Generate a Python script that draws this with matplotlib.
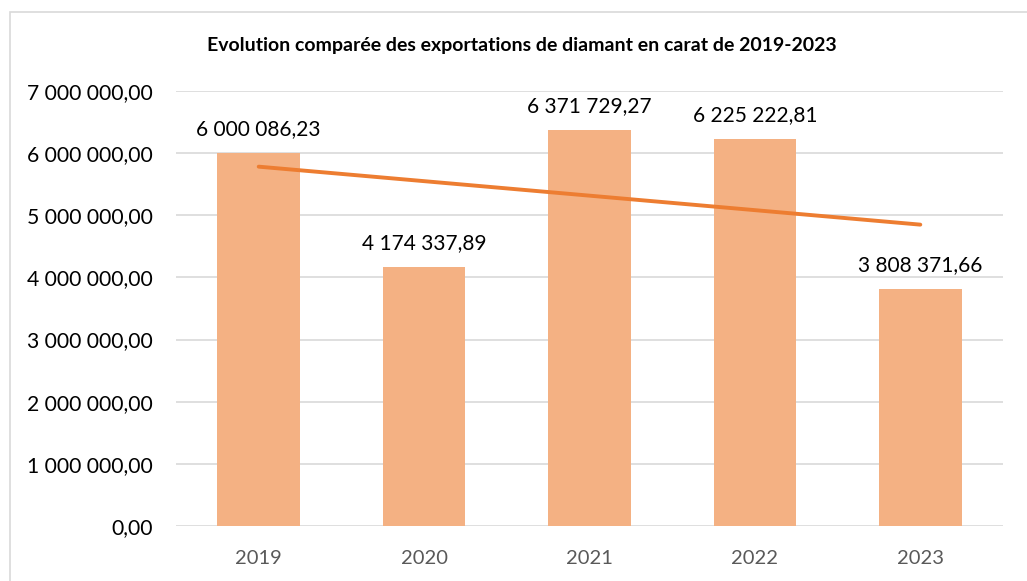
import matplotlib
matplotlib.use("Agg")
import matplotlib.pyplot as plt
import numpy as np
from matplotlib.patches import Rectangle

years = ["2019", "2020", "2021", "2022", "2023"]
values = [6000086.23, 4174337.89, 6371729.27, 6225222.81, 3808371.66]
title = "Evolution comparée des exportations de diamant en carat de 2019-2023"

def fr(v):
    s = f"{v:,.2f}"
    return s.replace(",", " ").replace(".", ",")

plt.rcParams['font.family'] = ['Lato', 'DejaVu Sans']

fig = plt.figure(figsize=(10.27, 5.81), dpi=100)
W, H = 1027, 581
ax = fig.add_axes([176/W, 1-526/H, (1003-176)/W, (526-91)/H])

x = np.arange(len(years))
ax.bar(x, values, width=0.5, color="#F4B183", zorder=2)
for xi, v in zip(x, values):
    ax.annotate(fr(v), (xi, v), xytext=(0, 10), textcoords="offset points",
                ha="center", va="bottom", fontsize=15, color="black")

coef = np.polyfit(x, values, 1)
ax.plot(x, np.polyval(coef, x), color="#ED7D31", lw=2.8, zorder=3, solid_capstyle="round")

ax.set_xlim(-0.5, len(years)-0.5)
ax.set_ylim(0, 7000000)
yt = np.arange(0, 7000001, 1000000)
ax.set_yticks(yt)
ax.set_yticklabels([fr(v) for v in yt], fontsize=15.2, color="black")
ax.set_xticks(x)
ax.set_xticklabels(years, fontsize=14.5, color="#595959")
ax.tick_params(axis="both", length=0)
ax.tick_params(axis="y", pad=16.5)
ax.tick_params(axis="x", pad=17.5)
ax.grid(axis="y", color="#D9D9D9", lw=1.2, zorder=0)
for s in ax.spines.values():
    s.set_visible(False)

fig.text(522/W, 1-45/H, title, ha="center", va="center", fontsize=14, fontweight="bold")

fig.patches.append(Rectangle((10/W, -0.1), 1.2, 1-12/H+0.1, transform=fig.transFigure,
                             fill=False, edgecolor="#D9D9D9", lw=1.2))

fig.savefig("out.png", dpi=100)
